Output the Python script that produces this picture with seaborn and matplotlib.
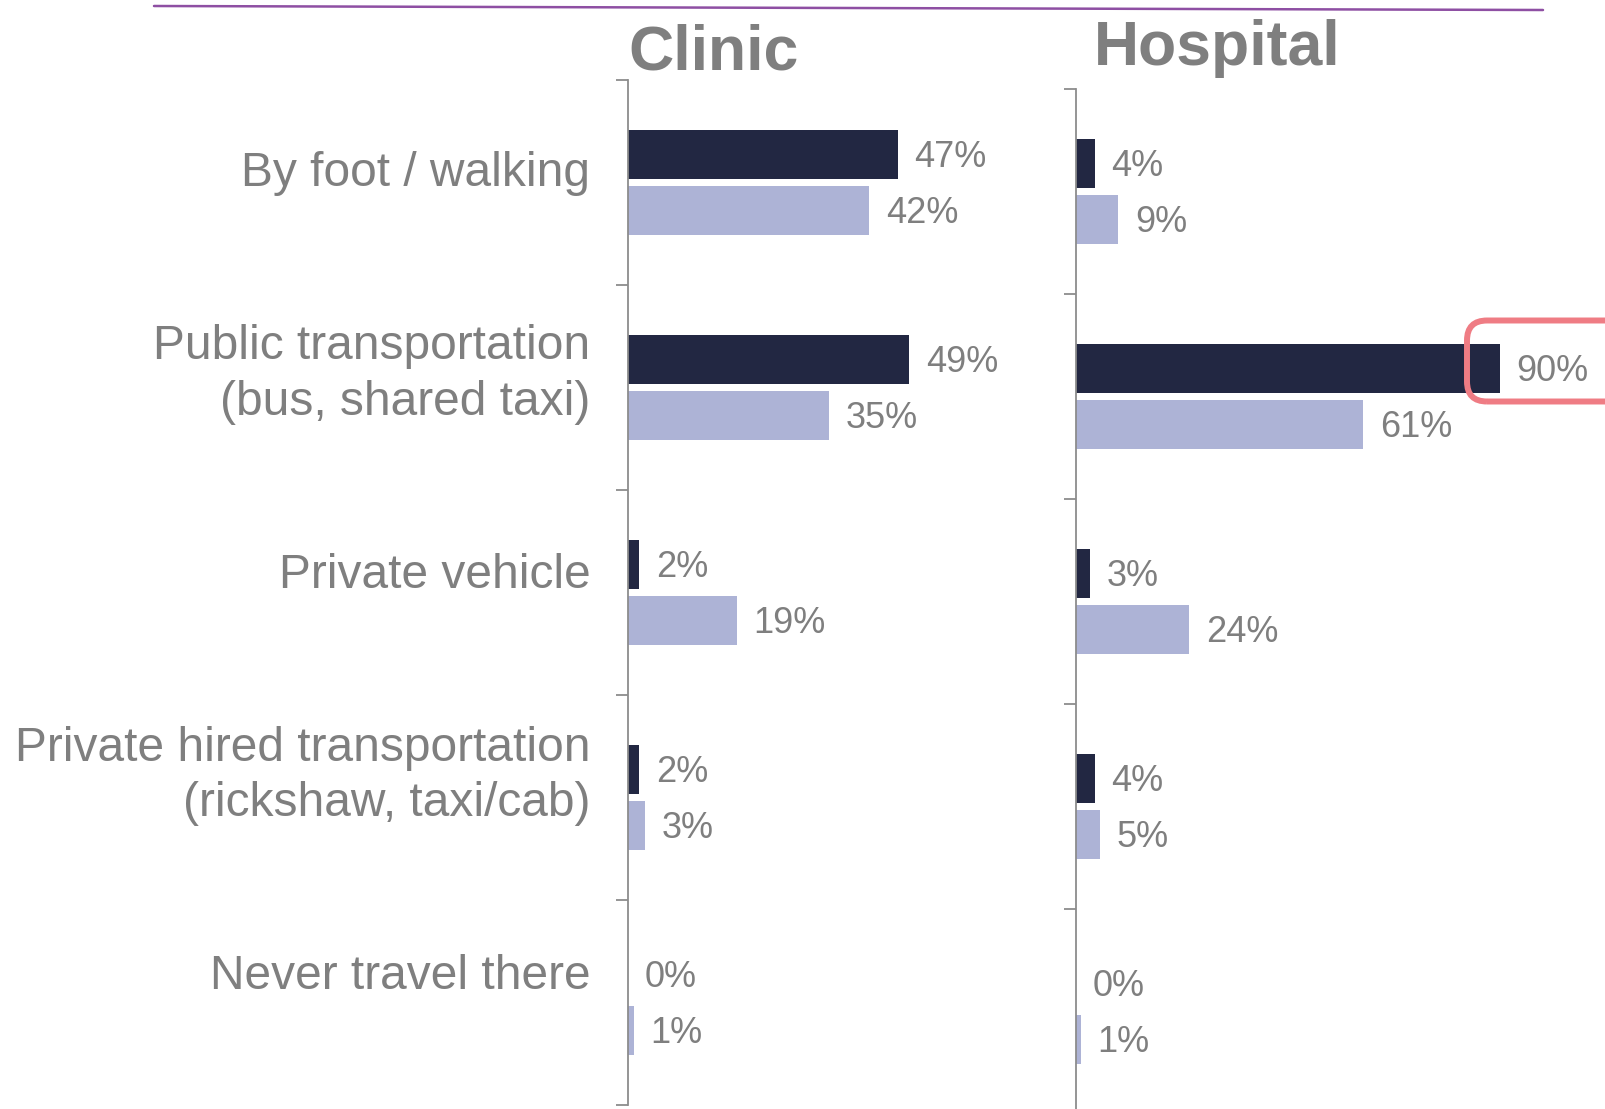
import pandas as pd
import numpy as np
import matplotlib
matplotlib.use("Agg")
import matplotlib.pyplot as plt
import matplotlib.transforms as mtransforms
from matplotlib.lines import Line2D
from matplotlib.patches import FancyBboxPatch
import seaborn as sns

# data (percent)
modes = [
    "By foot / walking",
    "Public transportation\n(bus, shared taxi)",
    "Private vehicle",
    "Private hired transportation\n(rickshaw, taxi/cab)",
    "Never travel there",
]
groups = ["Group 1", "Group 2"]
clinic_g1 = [47, 49, 2, 2, 0]
clinic_g2 = [42, 35, 19, 3, 1]
hospital_g1 = [4, 90, 3, 4, 0]
hospital_g2 = [9, 61, 24, 5, 1]

DARK = "#222742"
LIGHT = "#adb3d6"
GREY = "#7f7f7f"
SPINE = "#8c8c8c"

sns.set_style("white")
plt.rcParams["font.family"] = ["Liberation Sans", "DejaVu Sans"]


def long_df(g1, g2):
    return pd.DataFrame({
        "mode": modes * 2,
        "group": [groups[0]] * len(modes) + [groups[1]] * len(modes),
        "pct": list(g1) + list(g2),
    })


def draw_panel(ax, df, xmax, show_labels):
    sns.barplot(
        data=df, y="mode", x="pct", hue="group", order=modes,
        hue_order=groups, palette=[DARK, LIGHT], orient="h",
        width=0.55, gap=0.127, saturation=1, linewidth=0,
        legend=False, ax=ax,
    )
    ax.set_xlim(0, xmax)
    ax.set_ylim(len(modes) - 0.5, -0.5)
    ax.set_xlabel("")
    ax.set_ylabel("")
    ax.set_xticks([])

    # value labels next to each bar
    for cont in ax.containers:
        vals = [int(round(b.get_width())) for b in cont]
        anns = ax.bar_label(cont, labels=[f"{v}%" for v in vals], padding=12,
                            fontsize=26, color=GREY)
        for a in anns:
            a.xyann = (12, -2.2)

    for side in ["top", "right", "bottom"]:
        ax.spines[side].set_visible(False)
    ax.spines["left"].set_color(SPINE)
    ax.spines["left"].set_linewidth(1.3)

    # tick marks between categories, labels at the centres
    ax.set_yticks(np.arange(len(modes)))
    ax.set_yticks(np.arange(len(modes) + 1) - 0.5, minor=True)
    ax.tick_params(axis="y", which="major", left=False, length=0, pad=27,
                   labelsize=34.5, labelcolor=GREY)
    ax.tick_params(axis="y", which="minor", left=True, length=8.6, width=1.3,
                   color=SPINE, direction="out")
    if show_labels:
        ax.set_yticklabels(modes)
        fig = ax.figure
        for i, lab in enumerate(ax.get_yticklabels()):
            # the labels sit a little above the category centres
            dy = 14 + 4.2 * i + (5 if "\n" in lab.get_text() else 0)
            shift = mtransforms.ScaledTranslation(0, dy / 100,
                                                  fig.dpi_scale_trans)
            lab.set_horizontalalignment("right")
            lab.set_linespacing(1.3)
            lab.set_transform(lab.get_transform() + shift)
    else:
        ax.set_yticklabels([])


fig = plt.figure(figsize=(16.06, 11.09), dpi=100)
W, H = 1606, 1109

ax_c = fig.add_axes([628 / W, 4 / H, 420 / W, 1025 / H])
ax_h = fig.add_axes([1076 / W, -5 / H, 530 / W, 1025 / H])

draw_panel(ax_c, long_df(clinic_g1, clinic_g2), 73.2, True)
draw_panel(ax_h, long_df(hospital_g1, hospital_g2), 112.5, False)

# panel titles
fig.text(628 / W, 1 - 70 / H, "Clinic", fontsize=45, fontweight="bold",
         color=GREY, ha="left", va="baseline")
fig.text(1094 / W, 1 - 65 / H, "Hospital", fontsize=45, fontweight="bold",
         color=GREY, ha="left", va="baseline")

# purple rule at the top
fig.add_artist(Line2D([154 / W, 1543 / W], [1 - 6 / H, 1 - 10 / H],
                      transform=fig.transFigure, color="#8e4fa3", lw=1.8))

# highlight box round the 90% value
box = FancyBboxPatch((14.67, 7.075), 1.6, 0.81,
                     boxstyle="round,pad=0,rounding_size=0.2",
                     transform=fig.dpi_scale_trans, fill=False,
                     edgecolor="#ef7c84", linewidth=4.3)
fig.add_artist(box)

fig.savefig("out.png", dpi=100)
